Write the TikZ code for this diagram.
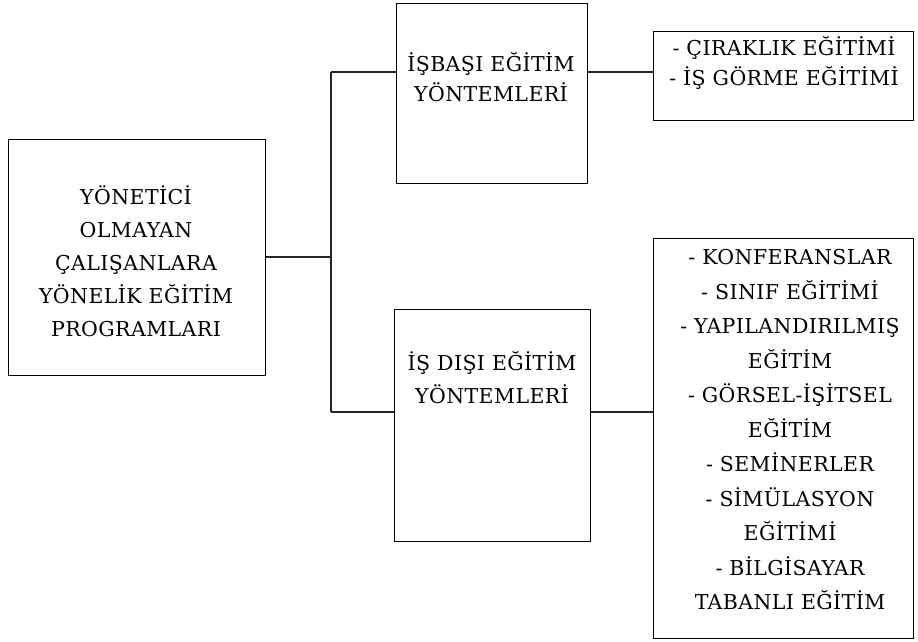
\documentclass[tikz,border=0pt]{standalone}
\usepackage{fontspec}
\setmainfont[LetterSpace=2]{DejaVu Serif}
\begin{document}
\begin{tikzpicture}[x=1pt,y=-1pt,
  box/.style={draw=black,line width=1.3pt,inner sep=0pt,anchor=north west},
  txt/.style={align=center,inner sep=0pt,font=\fontsize{20.5}{33}\selectfont},
  conn/.style={draw=black!85,line width=1.3pt}]
\useasboundingbox (0,0) rectangle (918,642);
\node[box,minimum width=257pt,minimum height=236pt] (main) at (8,139) {};
\node[box,minimum width=191pt,minimum height=180pt] (isb) at (396,3) {};
\node[box,minimum width=260pt,minimum height=89pt] (isbr) at (653,31) {};
\node[box,minimum width=196pt,minimum height=232pt] (isd) at (394,309) {};
\node[box,minimum width=260pt,minimum height=400pt] (isdr) at (653,238) {};
\node[txt] (maint) at (136,261) {YÖNETİCİ\\OLMAYAN\\ÇALIŞANLARA\\YÖNELİK EĞİTİM\\PROGRAMLARI};
\node[txt,font=\fontsize{20.5}{30}\selectfont] (isbt) at (491,77) {İŞBAŞI EĞİTİM\\YÖNTEMLERİ};
\node[txt,font=\fontsize{20.5}{30}\selectfont] (isbrt) at (784,63) {- ÇIRAKLIK EĞİTİMİ\\- İŞ GÖRME EĞİTİMİ};
\node[txt] (isdt) at (492,378) {İŞ DIŞI EĞİTİM\\YÖNTEMLERİ};
\node[txt,font=\fontsize{20.5}{34.5}\selectfont] (isdrt) at (790,430) {- KONFERANSLAR\\- SINIF EĞİTİMİ\\- YAPILANDIRILMIŞ\\EĞİTİM\\- GÖRSEL-İŞİTSEL\\EĞİTİM\\- SEMİNERLER\\- SİMÜLASYON\\EĞİTİMİ\\- BİLGİSAYAR\\TABANLI EĞİTİM};
\coordinate (trT) at (331,72);
\coordinate (trM) at (331,257);
\coordinate (trB) at (331,412);
\draw[conn] (main.east |- trM) -- (trM);
\draw[conn] (trT) -- (trB);
\draw[conn] (trT) -- (isb.west |- trT);
\draw[conn] (isb.east |- trT) -- (isbr.west |- trT);
\draw[conn] (trB) -- (isd.west |- trB);
\draw[conn] (isd.east |- trB) -- (isdr.west |- trB);
\end{tikzpicture}
\end{document}
